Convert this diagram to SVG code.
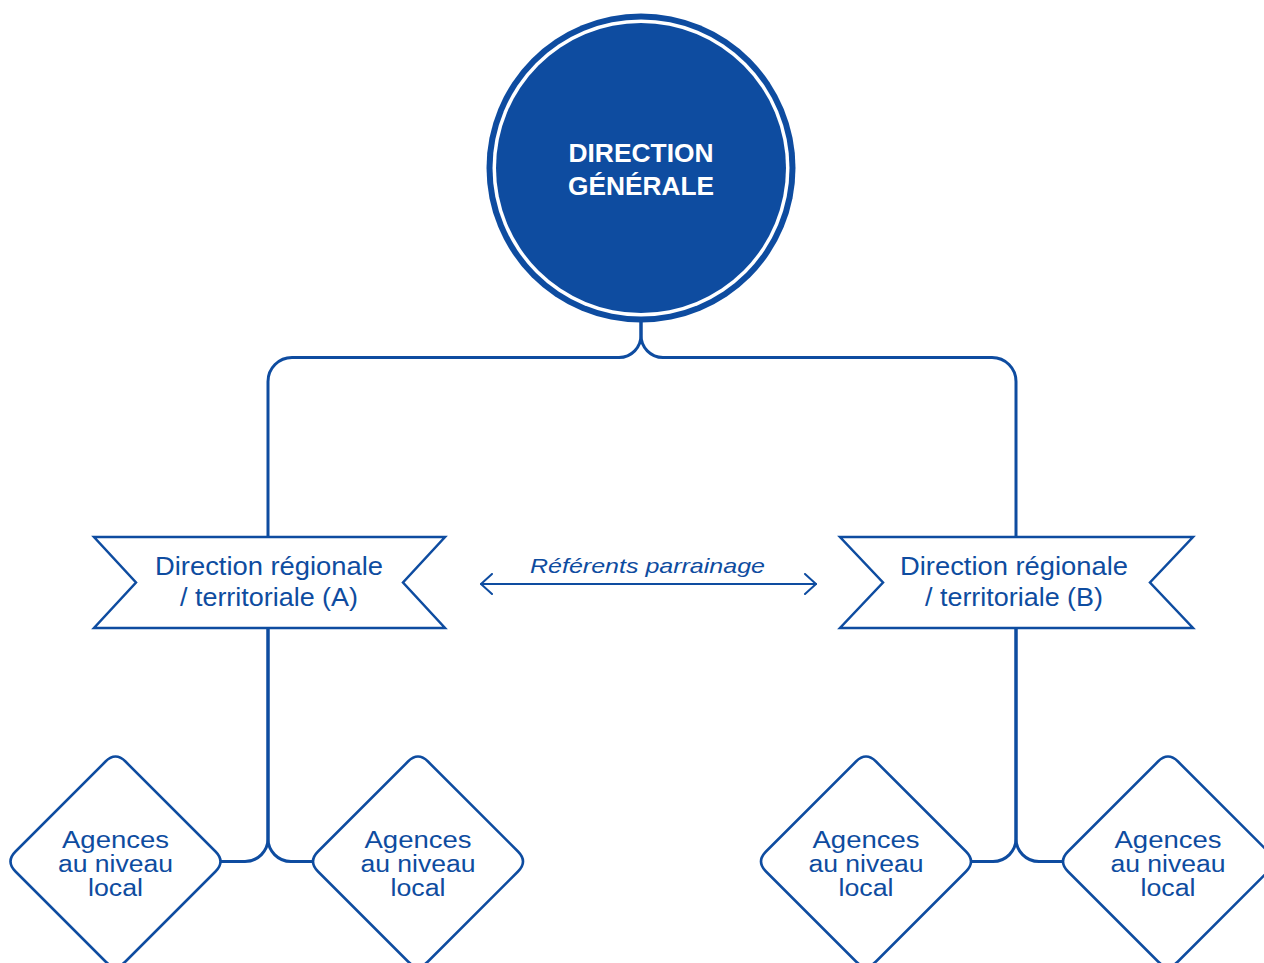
<svg xmlns="http://www.w3.org/2000/svg" width="1264" height="963" viewBox="0 0 1264 963">
<defs>
<style>
.ln{fill:none;stroke:#0E4CA0;stroke-width:3;stroke-linecap:round;stroke-linejoin:round}
.shape{fill:#fff;stroke:#0E4CA0;stroke-width:2.5;stroke-linejoin:miter}
.dia{fill:#fff;stroke:#0E4CA0;stroke-width:2.5;stroke-linejoin:round}
.t{font-family:"Liberation Sans",Arial,sans-serif;fill:#0E4CA0;text-anchor:middle}
.b{font-size:25px}
.d{font-size:23px}
.w{font-family:"Liberation Sans",Arial,sans-serif;fill:#fff;font-weight:bold;font-size:26px;text-anchor:middle}
.arr{fill:none;stroke:#0E4CA0;stroke-width:2;stroke-linecap:round;stroke-linejoin:round}
</style>
<marker id="chev" viewBox="0 0 14 22" refX="13" refY="11" markerWidth="14" markerHeight="22" markerUnits="userSpaceOnUse" orient="auto-start-reverse">
<path d="M2,1 L13,11 L2,21" fill="none" stroke="#0E4CA0" stroke-width="2" stroke-linecap="round" stroke-linejoin="round"/>
</marker>
</defs>
<rect width="1264" height="963" fill="#fff"/>

<g id="connectors">
<path class="ln" d="M641,322 V335 A22,22 0 0 1 619,357.5 H292 A24,24 0 0 0 268,381.5 V537"/>
<path class="ln" d="M641,322 V335 A22,22 0 0 0 663,357.5 H992 A24,24 0 0 1 1016,381.5 V537"/>
<path class="ln" d="M268,628 V838 A23,23 0 0 1 245,861.5 H221"/>
<path class="ln" d="M268,628 V838 A23,23 0 0 0 291,861.5 H313"/>
<path class="ln" d="M1016,628 V838 A23,23 0 0 1 993,861.5 H971"/>
<path class="ln" d="M1016,628 V838 A23,23 0 0 0 1039,861.5 H1063"/>
<path class="arr" d="M481,584 H816" marker-start="url(#chev)" marker-end="url(#chev)"/>
<text class="t" x="647.5" y="573" font-size="21" font-style="italic" textLength="235" lengthAdjust="spacingAndGlyphs">Référents parrainage</text>
</g>

<g id="direction-generale">
<circle cx="641" cy="168" r="154.5" fill="#0E4CA0"/>
<circle cx="641" cy="168" r="148.5" fill="#fff"/>
<circle cx="641" cy="168" r="145" fill="#0E4CA0"/>
<text class="w" x="641" y="161.5" textLength="145" lengthAdjust="spacingAndGlyphs">DIRECTION</text>
<text class="w" x="641" y="195" textLength="146" lengthAdjust="spacingAndGlyphs">GÉNÉRALE</text>
</g>

<g id="direction-regionale-a">
<polygon class="shape" points="94,537 445,537 403,582.5 445,628 94,628 136,582.5"/>
<text class="t b" x="269" y="574.5" textLength="228" lengthAdjust="spacingAndGlyphs">Direction régionale</text>
<text class="t b" x="269" y="605.5" textLength="178" lengthAdjust="spacingAndGlyphs">/ territoriale (A)</text>
</g>

<g id="direction-regionale-b">
<polygon class="shape" points="840,537 1193,537 1150,582.5 1193,628 840,628 883,582.5"/>
<text class="t b" x="1014" y="574.5" textLength="228" lengthAdjust="spacingAndGlyphs">Direction régionale</text>
<text class="t b" x="1014" y="605.5" textLength="178" lengthAdjust="spacingAndGlyphs">/ territoriale (B)</text>
</g>

<g id="agence-a1">
<path class="dia" d="M125.5,761.5 L215.5,851.5 Q225.5,861.5 215.5,871.5 L125.5,961.5 Q115.5,971.5 105.5,961.5 L15.5,871.5 Q5.5,861.5 15.5,851.5 L105.5,761.5 Q115.5,751.5 125.5,761.5 Z"/>
<text class="t d" x="115.5" y="847.5" textLength="107" lengthAdjust="spacingAndGlyphs">Agences</text>
<text class="t d" x="115.5" y="871.5" textLength="115" lengthAdjust="spacingAndGlyphs">au niveau</text>
<text class="t d" x="115.5" y="895.5" textLength="55" lengthAdjust="spacingAndGlyphs">local</text>
</g>

<g id="agence-a2">
<path class="dia" d="M428,761.5 L518,851.5 Q528,861.5 518,871.5 L428,961.5 Q418,971.5 408,961.5 L318,871.5 Q308,861.5 318,851.5 L408,761.5 Q418,751.5 428,761.5 Z"/>
<text class="t d" x="418" y="847.5" textLength="107" lengthAdjust="spacingAndGlyphs">Agences</text>
<text class="t d" x="418" y="871.5" textLength="115" lengthAdjust="spacingAndGlyphs">au niveau</text>
<text class="t d" x="418" y="895.5" textLength="55" lengthAdjust="spacingAndGlyphs">local</text>
</g>

<g id="agence-b1">
<path class="dia" d="M876,761.5 L966,851.5 Q976,861.5 966,871.5 L876,961.5 Q866,971.5 856,961.5 L766,871.5 Q756,861.5 766,851.5 L856,761.5 Q866,751.5 876,761.5 Z"/>
<text class="t d" x="866" y="847.5" textLength="107" lengthAdjust="spacingAndGlyphs">Agences</text>
<text class="t d" x="866" y="871.5" textLength="115" lengthAdjust="spacingAndGlyphs">au niveau</text>
<text class="t d" x="866" y="895.5" textLength="55" lengthAdjust="spacingAndGlyphs">local</text>
</g>

<g id="agence-b2">
<path class="dia" d="M1178,761.5 L1268,851.5 Q1278,861.5 1268,871.5 L1178,961.5 Q1168,971.5 1158,961.5 L1068,871.5 Q1058,861.5 1068,851.5 L1158,761.5 Q1168,751.5 1178,761.5 Z"/>
<text class="t d" x="1168" y="847.5" textLength="107" lengthAdjust="spacingAndGlyphs">Agences</text>
<text class="t d" x="1168" y="871.5" textLength="115" lengthAdjust="spacingAndGlyphs">au niveau</text>
<text class="t d" x="1168" y="895.5" textLength="55" lengthAdjust="spacingAndGlyphs">local</text>
</g>
</svg>
